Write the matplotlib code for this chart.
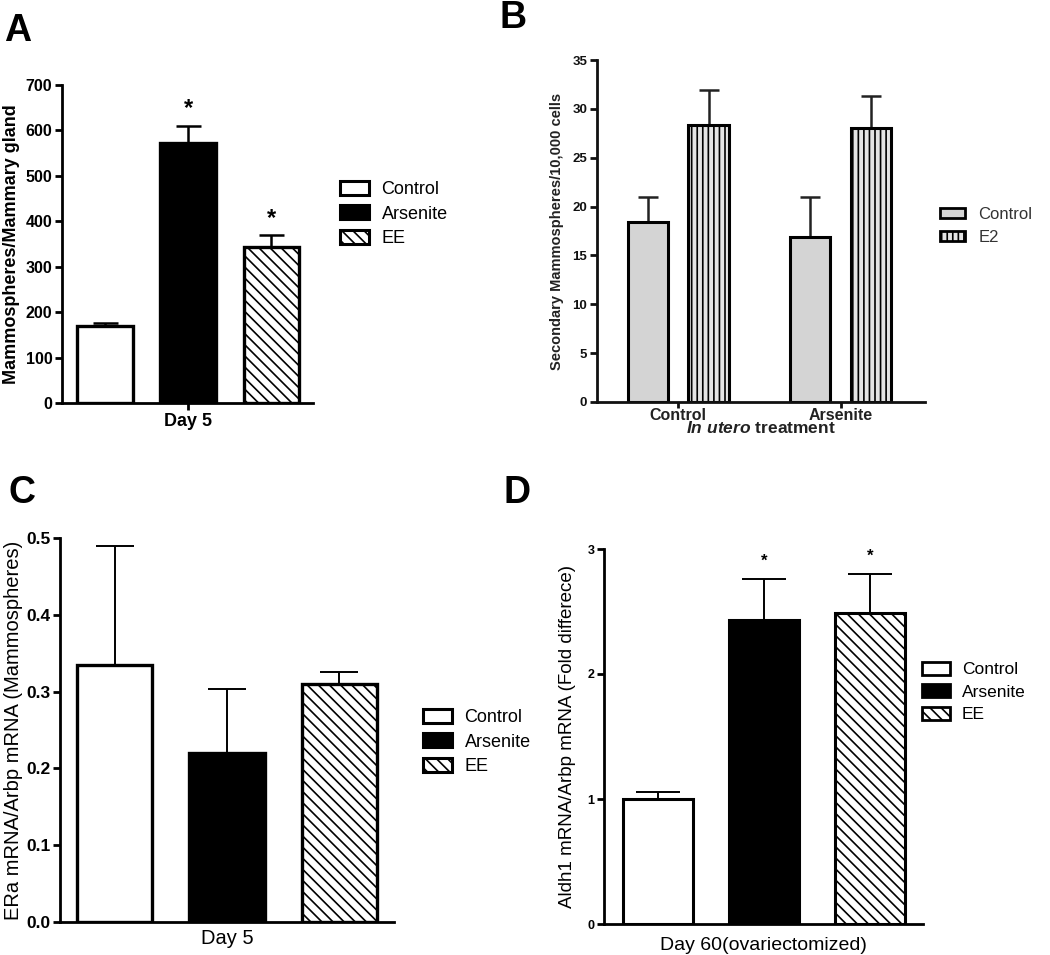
import numpy as np
import matplotlib
matplotlib.use('Agg')
import matplotlib.pyplot as plt
from matplotlib.patches import Patch

plt.rcParams['font.family'] = ['Liberation Sans', 'DejaVu Sans']
plt.rcParams['hatch.linewidth'] = 1.2
plt.rcParams['mathtext.fontset'] = 'custom'
plt.rcParams['mathtext.it'] = 'Liberation Sans:italic:bold'
plt.rcParams['mathtext.rm'] = 'Liberation Sans:bold'

# --- data ---
treatments = ['Control', 'Arsenite', 'EE']

a_mean = [170, 572, 343]
a_err = [6, 38, 26]
a_stars = [False, True, True]

b_groups = ['Control', 'Arsenite']
b_series = ['Control', 'E2']
b_control = [18.4, 16.9]
b_control_err = [2.6, 4.1]
b_e2 = [28.3, 28.0]
b_e2_err = [3.6, 3.3]

c_mean = [0.335, 0.220, 0.310]
c_err = [0.154, 0.084, 0.015]

d_mean = [1.00, 2.43, 2.49]
d_err = [0.06, 0.33, 0.31]
d_stars = [False, True, True]

W, H = 1050, 955
fig = plt.figure(figsize=(W / 100, H / 100), dpi=100)


def box(left, top, right, bottom):
    return [left / W, 1 - bottom / H, (right - left) / W, (bottom - top) / H]


def style_axes(ax, lw, tick_fs, color='black'):
    for s in ['top', 'right']:
        ax.spines[s].set_visible(False)
    for s in ['left', 'bottom']:
        ax.spines[s].set_linewidth(lw)
        ax.spines[s].set_color(color)
    ax.tick_params(axis='both', direction='out', length=5, width=lw, colors=color, pad=2)
    ax.tick_params(axis='y', labelsize=tick_fs)


def bold_yticks(ax):
    for t in ax.get_yticklabels():
        t.set_fontweight('bold')


hatch_ee = '\\\\\\'
bar_styles = [dict(facecolor='white'), dict(facecolor='black'),
              dict(facecolor='white', hatch=hatch_ee)]


def three_bars(ax, mean, err, width, lw, elw, cap):
    x = np.arange(len(mean))
    for i in range(len(mean)):
        ax.bar(x[i], mean[i], width=width, edgecolor='black', linewidth=lw,
               zorder=2, **bar_styles[i])
    ax.errorbar(x, mean, yerr=[np.zeros(len(err)), err], fmt='none',
                ecolor='black', elinewidth=elw, capsize=cap, capthick=elw, zorder=1)
    return x


def legend3(fs, x, y, lw):
    handles = [Patch(edgecolor='black', linewidth=lw, **bar_styles[i]) for i in range(3)]
    fig.legend(handles, treatments, loc='center left', bbox_to_anchor=(x / W, 1 - y / H),
               frameon=False, fontsize=fs, handlelength=1.6, handleheight=0.8,
               labelspacing=0.4, handletextpad=0.7, borderpad=0, borderaxespad=0)


# --- panel A ---
axA = fig.add_axes(box(62, 85, 313, 403))
style_axes(axA, 2.0, 11.5)
xA = three_bars(axA, a_mean, a_err, 0.67, 2.4, 1.8, 9)
axA.set_xlim(-0.52, 2.5)
axA.set_ylim(0, 700)
axA.set_yticks(np.arange(0, 701, 100))
bold_yticks(axA)
axA.set_xticks([1])
axA.set_xticklabels(['Day 5'], fontsize=13, fontweight='bold')
axA.set_ylabel('Mammospheres/Mammary gland', fontsize=13, fontweight='bold', labelpad=4)
for i in range(3):
    if a_stars[i]:
        axA.text(xA[i], a_mean[i] + a_err[i] + 38, '*', ha='center', va='center',
                 fontsize=17, fontweight='bold')
legend3(13, 340, 214, 2.2)

# --- panel B ---
axB = fig.add_axes(box(597, 60, 925, 402))
grey = '#222222'
style_axes(axB, 2.0, 9.5, color='#111111')
xb = np.arange(len(b_groups))
off = 0.187
bw = 0.25
axB.bar(xb - off, b_control, width=bw, facecolor='#d4d4d4', edgecolor='black',
        linewidth=2.2, zorder=2)
axB.bar(xb + off, b_e2, width=bw, facecolor='#e4e4e4', edgecolor='black',
        hatch='|||', linewidth=2.2, zorder=2)
axB.errorbar(xb - off, b_control, yerr=[[0, 0], b_control_err], fmt='none',
             ecolor='#222222', elinewidth=1.8, capsize=7, capthick=1.8, zorder=1)
axB.errorbar(xb + off, b_e2, yerr=[[0, 0], b_e2_err], fmt='none',
             ecolor='#222222', elinewidth=1.8, capsize=7, capthick=1.8, zorder=1)
axB.set_xlim(-0.5, 1.52)
axB.set_ylim(0, 35)
axB.set_yticks(np.arange(0, 36, 5))
bold_yticks(axB)
axB.set_xticks(xb)
axB.set_xticklabels(b_groups, fontsize=11.5, fontweight='bold', color=grey)
axB.tick_params(axis='x', length=4, pad=0)
axB.set_ylabel('Secondary Mammospheres/10,000 cells', fontsize=10.5,
               fontweight='bold', color=grey, labelpad=6)
axB.set_xlabel(r'$\mathit{In\ utero}$ treatment', fontsize=12.5, fontweight='bold',
               color=grey, labelpad=-2)
hb = [Patch(facecolor='#d4d4d4', edgecolor='black', linewidth=2),
      Patch(facecolor='#e4e4e4', edgecolor='black', hatch='|||', linewidth=2)]
fig.legend(hb, b_series, loc='center left', bbox_to_anchor=(940 / W, 1 - 226 / H),
           frameon=False, fontsize=12, handlelength=1.5, handleheight=0.55,
           labelspacing=0.5, handletextpad=0.8, borderpad=0, borderaxespad=0,
           labelcolor='#333333')

# --- panel C ---
axC = fig.add_axes(box(60, 538, 394, 922))
style_axes(axC, 2.0, 12.5)
three_bars(axC, c_mean, c_err, 0.67, 2.4, 1.4, 14)
axC.set_xlim(-0.49, 2.49)
axC.set_ylim(0, 0.5)
axC.set_yticks(np.arange(0, 0.51, 0.1))
axC.set_yticklabels(['0.0', '0.1', '0.2', '0.3', '0.4', '0.5'])
bold_yticks(axC)
axC.set_xticks([1])
axC.set_xticklabels(['Day 5'], fontsize=14.5)
axC.tick_params(axis='x', length=0, pad=5)
axC.set_ylabel('ERa mRNA/Arbp mRNA (Mammospheres)', fontsize=14.5, labelpad=2)
legend3(13, 423, 742, 2.2)

# --- panel D ---
axD = fig.add_axes(box(604, 549, 923, 924))
style_axes(axD, 2.0, 9)
xD = three_bars(axD, d_mean, d_err, 0.66, 2.2, 1.4, 16)
axD.set_xlim(-0.505, 2.5)
axD.set_ylim(0, 3)
axD.set_yticks([0, 1, 2, 3])
bold_yticks(axD)
axD.set_xticks([1])
axD.set_xticklabels(['Day 60(ovariectomized)'], fontsize=14)
axD.tick_params(axis='x', length=0, pad=9)
axD.set_ylabel('Aldh1 mRNA/Arbp mRNA (Fold differece)', fontsize=13.5, labelpad=8)
for i in range(3):
    if d_stars[i]:
        axD.text(xD[i], d_mean[i] + d_err[i] + 0.14, '*', ha='center', va='center',
                 fontsize=12, fontweight='bold')
legend3(12.5, 922, 692, 2.0)

# --- panel letters ---
for lab, x, y in [('A', 4, 13), ('B', 499, 0), ('C', 9, 475), ('D', 503, 475)]:
    fig.text(x / W, 1 - y / H, lab, fontsize=27, fontweight='bold', ha='left', va='top')

fig.savefig('out.png', dpi=100, facecolor='white')
